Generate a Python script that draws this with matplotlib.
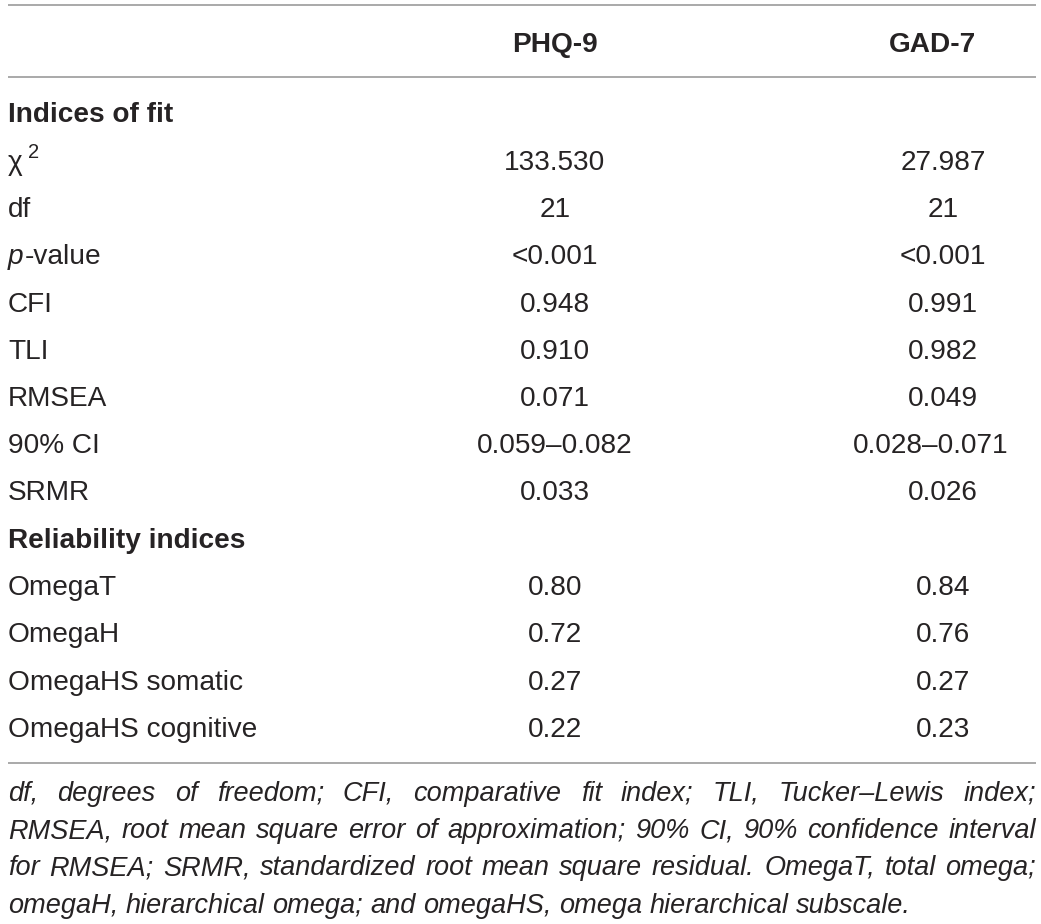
import matplotlib
matplotlib.use("Agg")
import matplotlib.pyplot as plt

# ---------------- data ----------------
columns = ["PHQ-9", "GAD-7"]
row_labels = ["Indices of fit", "χ", "df", "p-value", "CFI", "TLI", "RMSEA", "90% CI", "SRMR",
              "Reliability indices", "OmegaT", "OmegaH", "OmegaHS somatic", "OmegaHS cognitive"]
section_rows = ["Indices of fit", "Reliability indices"]
phq9 = ["", "133.530", "21", "<0.001", "0.948", "0.910", "0.071", "0.059–0.082", "0.033",
        "", "0.80", "0.72", "0.27", "0.22"]
gad7 = ["", "27.987", "21", "<0.001", "0.991", "0.982", "0.049", "0.028–0.071", "0.026",
        "", "0.84", "0.76", "0.27", "0.23"]
footnote_lines = [
    "df, degrees of freedom; CFI, comparative fit index; TLI, Tucker–Lewis index;",
    "RMSEA, root mean square error of approximation; 90% CI, 90% confidence interval",
    "for RMSEA; SRMR, standardized root mean square residual. OmegaT, total omega;",
    "omegaH, hierarchical omega; and omegaHS, omega hierarchical subscale.",
]

# ---------------- layout ----------------
W, H = 1041, 924
FONT = "Liberation Sans"
TXT = "#262324"
LINE = "#a3a3a3"
fs_body = 20.2
fs_foot = 19.5
left, right = 8, 1036
col_x = [555, 943]
head_x = [555, 932]
col_right_limit = 1008

fig = plt.figure(figsize=(W / 100, H / 100), dpi=100)
ax = fig.add_axes([0, 0, 1, 1])
ax.set_xlim(0, W)
ax.set_ylim(H, 0)
ax.axis("off")
renderer = fig.canvas.get_renderer()

# rules
for y in (5, 77, 763):
    ax.plot([left, right], [y, y], color=LINE, lw=1.3, solid_capstyle="butt")

# header
for x, c in zip(head_x, columns):
    ax.text(x, 52, c, ha="center", va="baseline", fontsize=fs_body, fontweight="bold",
            family=FONT, color=TXT)

base0, step = 122.5, 47.25
for i, lab in enumerate(row_labels):
    yb = base0 + i * step
    if lab in section_rows:
        ax.text(left, yb, lab, ha="left", va="baseline", fontsize=fs_body,
                fontweight="bold", family=FONT, color=TXT)
        continue
    if lab == "χ":
        t = ax.text(left, yb, "χ", ha="left", va="baseline", fontsize=fs_body,
                    family=FONT, color=TXT)
        bb = t.get_window_extent(renderer)
        ax.text(left + bb.width + 5, yb - 12, "2", ha="left", va="baseline",
                fontsize=fs_body * 0.72, family=FONT, color=TXT)
    elif lab == "p-value":
        t = ax.text(left, yb, "p", ha="left", va="baseline", fontsize=fs_body,
                    style="italic", family=FONT, color=TXT)
        bb = t.get_window_extent(renderer)
        ax.text(left + bb.width + 1, yb, "-value", ha="left", va="baseline",
                fontsize=fs_body, family=FONT, color=TXT)
    else:
        ax.text(left, yb, lab, ha="left", va="baseline", fontsize=fs_body,
                family=FONT, color=TXT)
    for x, vals in zip(col_x, (phq9, gad7)):
        v = vals[i]
        t = ax.text(x, yb, v, ha="center", va="baseline", fontsize=fs_body,
                    family=FONT, color=TXT)
        bb = t.get_window_extent(renderer)
        if x + bb.width / 2 > col_right_limit:
            t.set_x(col_right_limit - bb.width / 2)

# footnote (justified)
fb0, fstep = 801, 37.2
space_t = ax.text(0, 0, "a a", fontsize=fs_foot, style="italic", family=FONT)
aa = ax.text(0, 0, "aa", fontsize=fs_foot, style="italic", family=FONT)
space_w = space_t.get_window_extent(renderer).width - aa.get_window_extent(renderer).width
space_t.remove(); aa.remove()
for li, line in enumerate(footnote_lines):
    yb = fb0 + li * fstep
    words = line.split(" ")
    texts = [ax.text(0, yb, w, ha="left", va="baseline", fontsize=fs_foot,
                     style="italic", family=FONT, color=TXT) for w in words]
    widths = [t.get_window_extent(renderer).width for t in texts]
    if li < len(footnote_lines) - 1:
        gap = (right - left - sum(widths)) / (len(words) - 1)
    else:
        gap = space_w
    x = left
    for t, w in zip(texts, widths):
        t.set_x(x)
        x += w + gap

fig.savefig("out.png", dpi=100)
